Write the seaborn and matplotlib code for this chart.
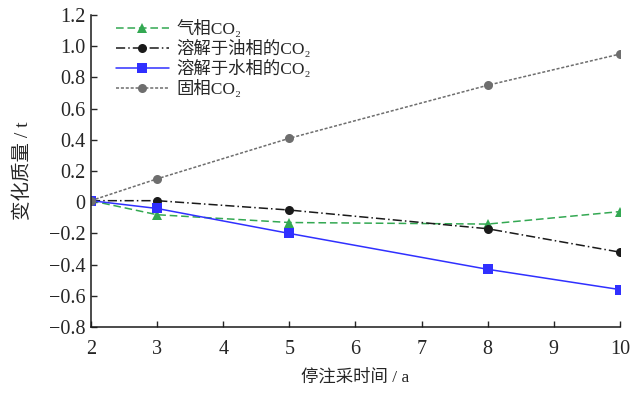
import numpy as np
import pandas as pd
import seaborn as sns
import matplotlib
matplotlib.use("Agg")
import matplotlib.pyplot as plt
from matplotlib.ticker import FuncFormatter, MultipleLocator

# dados
anos = [2, 3, 5, 8, 10]
gas = [0.01, -0.08, -0.13, -0.14, -0.06]
oleo = [0.01, 0.01, -0.05, -0.17, -0.32]
agua = [0.01, -0.04, -0.20, -0.43, -0.56]
solido = [0.01, 0.15, 0.41, 0.75, 0.95]

nomes = ["气相CO\u2082", "溶解于油相的CO\u2082", "溶解于水相的CO\u2082", "固相CO\u2082"]

sns.set_style("ticks")
plt.rcParams["font.family"] = ["Liberation Serif", "Noto Sans CJK SC", "DejaVu Serif"]
plt.rcParams["xtick.direction"] = "in"
plt.rcParams["ytick.direction"] = "in"

fig = plt.figure(figsize=(6.43, 3.97), dpi=100)
ax = fig.add_axes([0.1415, 0.1763, 0.8225, 0.7857])

series = [
    (gas, "#33a852", (5, 2.5), "^", 7.5),
    (oleo, "#1a1a1a", (6, 2, 1, 2), "o", 6.5),
    (agua, "#3030ff", None, "s", 6.5),
    (solido, "#6e6e6e", (2, 1.2), "o", 6.5),
]
for (valores, cor, tracos, marcador, tam), nome in zip(series, nomes):
    df = pd.DataFrame({"ano": anos, "valor": valores})
    sns.lineplot(data=df, x="ano", y="valor", ax=ax, color=cor, linewidth=1.1,
                 marker=marcador, markersize=tam, markeredgewidth=0,
                 label=nome)
    if tracos:
        ax.lines[-1].set_dashes(tracos)

ax.set_xlim(2, 10)
ax.set_ylim(-0.8, 1.2)
ax.xaxis.set_major_locator(MultipleLocator(1))
ax.yaxis.set_major_locator(MultipleLocator(0.2))


def formata(v, pos):
    if abs(v) < 1e-9:
        return "0"
    return f"{v:.1f}".replace("-", "\u2212")


ax.yaxis.set_major_formatter(FuncFormatter(formata))
ax.tick_params(labelsize=14.5, length=4, width=1)
ax.tick_params(axis="x", pad=9)
ax.tick_params(axis="y", pad=4)
ax.set_xlabel("停注采时间 / a", fontsize=12.5, labelpad=8)
ax.set_ylabel("变化质量 / t", fontsize=14, labelpad=12)
for lado in ["top", "right"]:
    ax.spines[lado].set_visible(False)
for lado in ["left", "bottom"]:
    ax.spines[lado].set_linewidth(1.1)
    ax.spines[lado].set_color("#1a1a1a")

ax.legend(loc="upper left", frameon=False, fontsize=12.5, handlelength=3.0,
          handletextpad=0.45, labelspacing=0.1, borderaxespad=0.0,
          bbox_to_anchor=(0.035, 1.005))

fig.savefig("out.png", dpi=100)
